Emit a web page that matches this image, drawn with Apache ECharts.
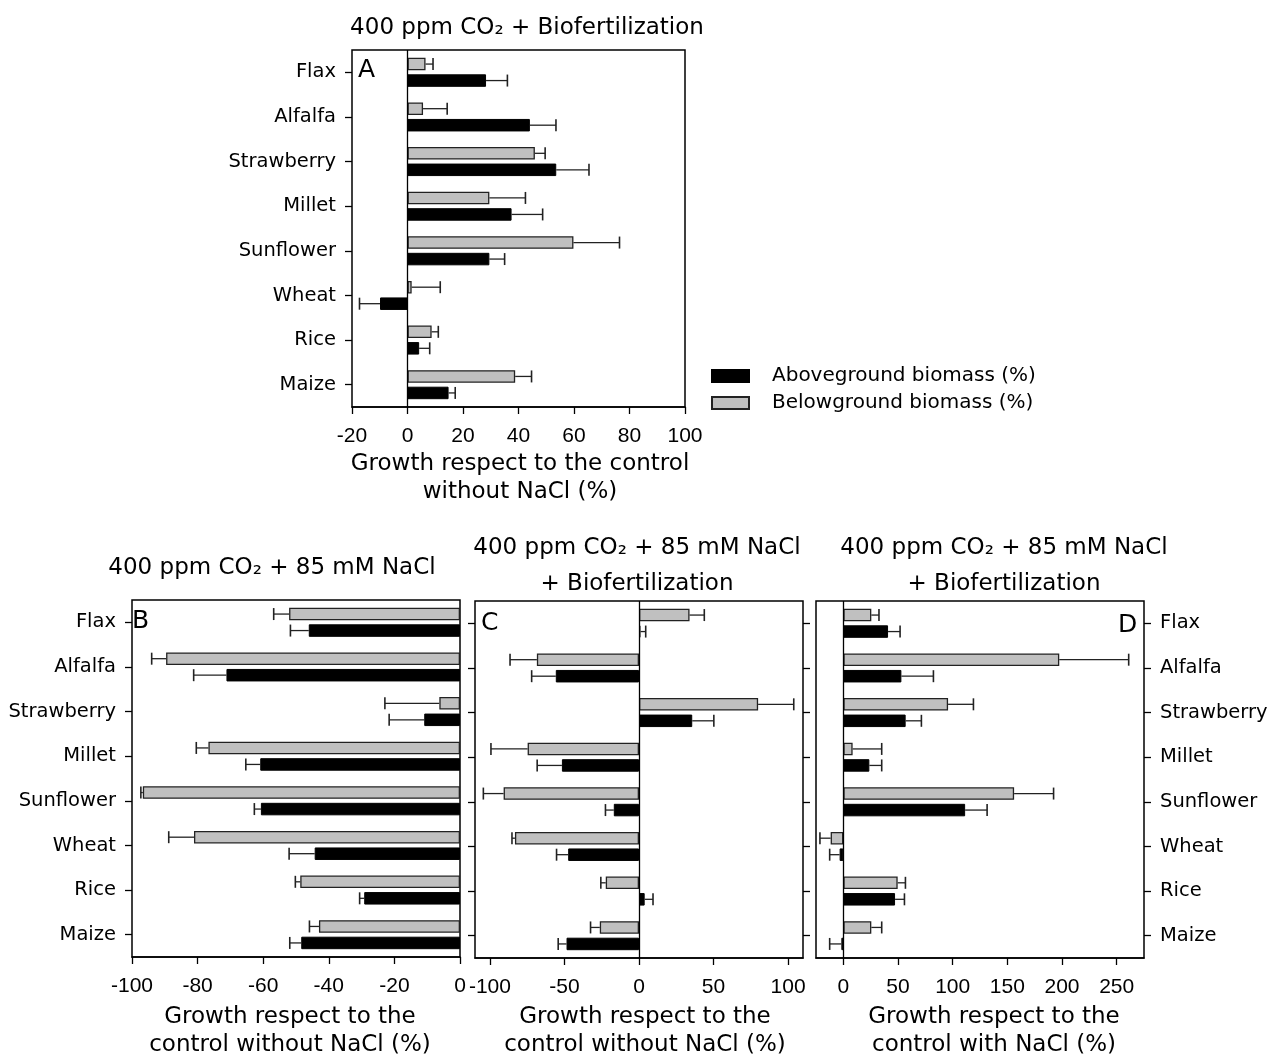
<!DOCTYPE html>
<html>
<head>
<meta charset="utf-8">
<script src="https://cdn.jsdelivr.net/npm/echarts@6/dist/echarts.min.js"></script>
<style>html,body{margin:0;padding:0;background:#fff;}#c{width:1277px;height:1059px;}</style>
</head>
<body>
<div id="c"></div>
<script>
const categories = ['Flax','Alfalfa','Strawberry','Millet','Sunflower','Wheat','Rice','Maize'];

// Panel A: 400 ppm CO2 + Biofertilization
const aAbove    = [28.3, 44.1, 53.6, 37.5, 29.5, -9.9, 4.2, 14.8];
const aAboveErr = [7.7, 9.4, 11.8, 11.2, 5.5, 7.4, 3.8, 2.4];
const aBelow    = [6.5, 5.6, 45.9, 29.5, 59.8, 1.5, 8.7, 38.8];
const aBelowErr = [2.7, 8.7, 3.7, 13.0, 16.6, 10.3, 2.4, 5.9];

// Panel B: 400 ppm CO2 + 85 mM NaCl
const bAbove    = [-46.1, -71.2, -10.9, -60.9, -60.7, -44.3, -29.2, -48.4];
const bAboveErr = [5.6, 10.0, 10.7, 4.4, 2.0, 7.8, 1.4, 3.5];
const bBelow    = [-52.1, -89.6, -6.3, -76.7, -96.7, -81.1, -48.7, -43.0];
const bBelowErr = [4.7, 4.4, 16.6, 3.7, 0.6, 7.7, 1.5, 2.9];

// Panel C: 400 ppm CO2 + 85 mM NaCl + Biofertilization (vs control without NaCl)
const cAbove    = [1.0, -55.8, 35.7, -51.7, -16.9, -47.5, 3.8, -48.6];
const cAboveErr = [3.5, 16.2, 14.5, 16.6, 5.6, 7.8, 5.6, 5.6];
const cBelow    = [33.9, -68.5, 79.9, -74.7, -90.8, -83.2, -22.3, -26.3];
const cBelowErr = [9.9, 18.0, 23.9, 24.6, 13.6, 2.0, 3.3, 6.2];

// Panel D: 400 ppm CO2 + 85 mM NaCl + Biofertilization (vs control with NaCl)
const dAbove    = [40.9, 53.1, 57.0, 23.8, 111.4, -3.4, 47.3, -1.8];
const dAboveErr = [11.0, 29.3, 14.4, 11.3, 20.1, 9.1, 8.6, 10.7];
const dBelow    = [25.6, 197.5, 95.8, 8.5, 156.2, -11.6, 49.7, 25.6];
const dBelowErr = [7.0, 63.5, 23.2, 26.6, 36.1, 9.8, 7.1, 9.5];

const ticksA = [-20, 0, 20, 40, 60, 80, 100];
const ticksB = [-100, -80, -60, -40, -20, 0];
const ticksC = [-100, -50, 0, 50, 100];
const ticksD = [0, 50, 100, 150, 200, 250];

const ABOVE = 'Aboveground biomass (%)';
const BELOW = 'Belowground biomass (%)';
const WORD_FONT = 'DejaVu Sans';
const NUM_FONT = 'Liberation Sans';
const BAR_W = 12.5;
const BAR_GAP = 4;
const OFF = (BAR_W + BAR_GAP) / 2;

function errData(vals, errs) {
  return vals.map((v, i) => {
    const s = v < 0 ? -1 : 1;
    return [v + s * errs[i], i, v];
  });
}
function errRender(off) {
  return function (params, api) {
    const end = api.value(0), cat = api.value(1), start = api.value(2);
    const p0 = api.coord([start, cat]);
    const p1 = api.coord([end, cat]);
    const y = p0[1] + off;
    return {
      type: 'group',
      children: [
        {type: 'line', shape: {x1: p0[0], y1: y, x2: p1[0], y2: y}, style: {stroke: '#222', lineWidth: 1.3}},
        {type: 'line', shape: {x1: p1[0], y1: y - 6, x2: p1[0], y2: y + 6}, style: {stroke: '#222', lineWidth: 1.6}}
      ]
    };
  };
}

const grids = [
  {left: 352, top: 50, width: 333, height: 357},
  {left: 132, top: 600, width: 328, height: 357},
  {left: 475, top: 601, width: 328, height: 357},
  {left: 816, top: 601, width: 328, height: 357}
].map(g => Object.assign({show: true, borderColor: '#000', borderWidth: 1.5, backgroundColor: 'transparent', containLabel: false}, g));

function xAx(gi, min, max, ticks) {
  return {
    type: 'value', gridIndex: gi, min: min, max: max,
    axisLine: {show: true, onZero: false, lineStyle: {color: '#000', width: 1.5}},
    axisTick: {show: true, inside: false, length: 7, lineStyle: {color: '#000', width: 1.3}, customValues: ticks},
    axisLabel: {show: true, margin: 19, color: '#000', fontFamily: NUM_FONT, fontSize: 21, customValues: ticks},
    splitLine: {show: false}
  };
}
function yAx(gi, pos, showLabel) {
  return {
    type: 'category', gridIndex: gi, data: categories, inverse: true, position: pos,
    axisLine: {show: false, onZero: false},
    axisTick: {show: true, inside: false, alignWithLabel: true, interval: 0, length: 7, lineStyle: {color: '#000', width: 1.3}},
    axisLabel: {show: showLabel, interval: 0, margin: 16, color: '#000', fontFamily: WORD_FONT, fontSize: 19.5, padding: [5, 0, 0, 0]},
    splitLine: {show: false}
  };
}

const xAxes = [
  xAx(0, -20, 100, ticksA),
  xAx(1, -100, 0, ticksB),
  xAx(2, -110, 110, ticksC),
  xAx(3, -25, 275, ticksD)
];
const yAxes = [
  yAx(0, 'left', true),
  yAx(1, 'left', true),
  yAx(2, 'left', false),
  yAx(2, 'right', false),
  yAx(3, 'right', true)
];

const zeroLine = {
  silent: true, symbol: 'none', animation: false,
  label: {show: false},
  lineStyle: {color: '#000', type: 'solid', width: 1.3},
  data: [{xAxis: 0}]
};

function panelSeries(xi, yi, above, aboveErr, below, belowErr, withZero) {
  const gray = {
    name: BELOW, type: 'bar', xAxisIndex: xi, yAxisIndex: yi, data: below,
    barWidth: BAR_W, barGap: (BAR_GAP / BAR_W * 100) + '%',
    itemStyle: {color: '#c0c0c0', borderColor: '#222', borderWidth: 1.3},
    emphasis: {disabled: true}
  };
  if (withZero) gray.markLine = zeroLine;
  const black = {
    name: ABOVE, type: 'bar', xAxisIndex: xi, yAxisIndex: yi, data: above,
    barWidth: BAR_W, barGap: (BAR_GAP / BAR_W * 100) + '%',
    itemStyle: {color: '#000', borderColor: '#000', borderWidth: 1},
    emphasis: {disabled: true}
  };
  const e1 = {
    type: 'custom', xAxisIndex: xi, yAxisIndex: yi, silent: true, z: 5,
    encode: {x: 0, y: 1}, data: errData(below, belowErr), renderItem: errRender(-OFF)
  };
  const e2 = {
    type: 'custom', xAxisIndex: xi, yAxisIndex: yi, silent: true, z: 5,
    encode: {x: 0, y: 1}, data: errData(above, aboveErr), renderItem: errRender(OFF)
  };
  return [gray, black, e1, e2];
}

const series = [].concat(
  panelSeries(0, 0, aAbove, aAboveErr, aBelow, aBelowErr, true),
  panelSeries(1, 1, bAbove, bAboveErr, bBelow, bBelowErr, false),
  panelSeries(2, 2, cAbove, cAboveErr, cBelow, cBelowErr, true),
  panelSeries(3, 4, dAbove, dAboveErr, dBelow, dBelowErr, true)
);

function txt(text, x, y, size, align, lh) {
  return {
    type: 'text', x: x, y: y, silent: true,
    style: {text: text, fill: '#000', fontFamily: WORD_FONT, fontSize: size, align: align || 'center', verticalAlign: 'middle', lineHeight: lh || size}
  };
}

const graphics = [
  txt('400 ppm CO\u2082 + Biofertilization', 527, 28, 23),
  txt('400 ppm CO\u2082 + 85 mM NaCl', 272, 568, 23),
  txt('400 ppm CO\u2082 + 85 mM NaCl', 637, 548, 23),
  txt('+ Biofertilization', 637, 584, 23),
  txt('400 ppm CO\u2082 + 85 mM NaCl', 1004, 548, 23),
  txt('+ Biofertilization', 1004, 584, 23),
  txt('Growth respect to the control\nwithout NaCl (%)', 520, 478, 23, 'center', 28),
  txt('Growth respect to the\ncontrol without NaCl (%)', 290, 1031, 23, 'center', 28),
  txt('Growth respect to the\ncontrol without NaCl (%)', 645, 1031, 23, 'center', 28),
  txt('Growth respect to the\ncontrol with NaCl (%)', 994, 1031, 23, 'center', 28),
  txt('A', 358, 70, 25, 'left'),
  txt('B', 132, 621, 25, 'left'),
  txt('C', 481, 623, 25, 'left'),
  txt('D', 1118, 625, 25, 'left')
];

const chart = echarts.init(document.getElementById('c'), null, {renderer: 'canvas'});
chart.setOption({
  animation: false,
  backgroundColor: '#fff',
  grid: grids,
  xAxis: xAxes,
  yAxis: yAxes,
  legend: {
    data: [ABOVE, BELOW], orient: 'vertical', left: 706, top: 361,
    icon: 'rect', itemWidth: 37, itemHeight: 12, itemGap: 7,
    selectedMode: false,
    textStyle: {color: '#000', fontFamily: WORD_FONT, fontSize: 20, lineHeight: 20, padding: [0, 0, 0, 18]}
  },
  series: series,
  graphic: graphics
});
</script>
</body>
</html>
